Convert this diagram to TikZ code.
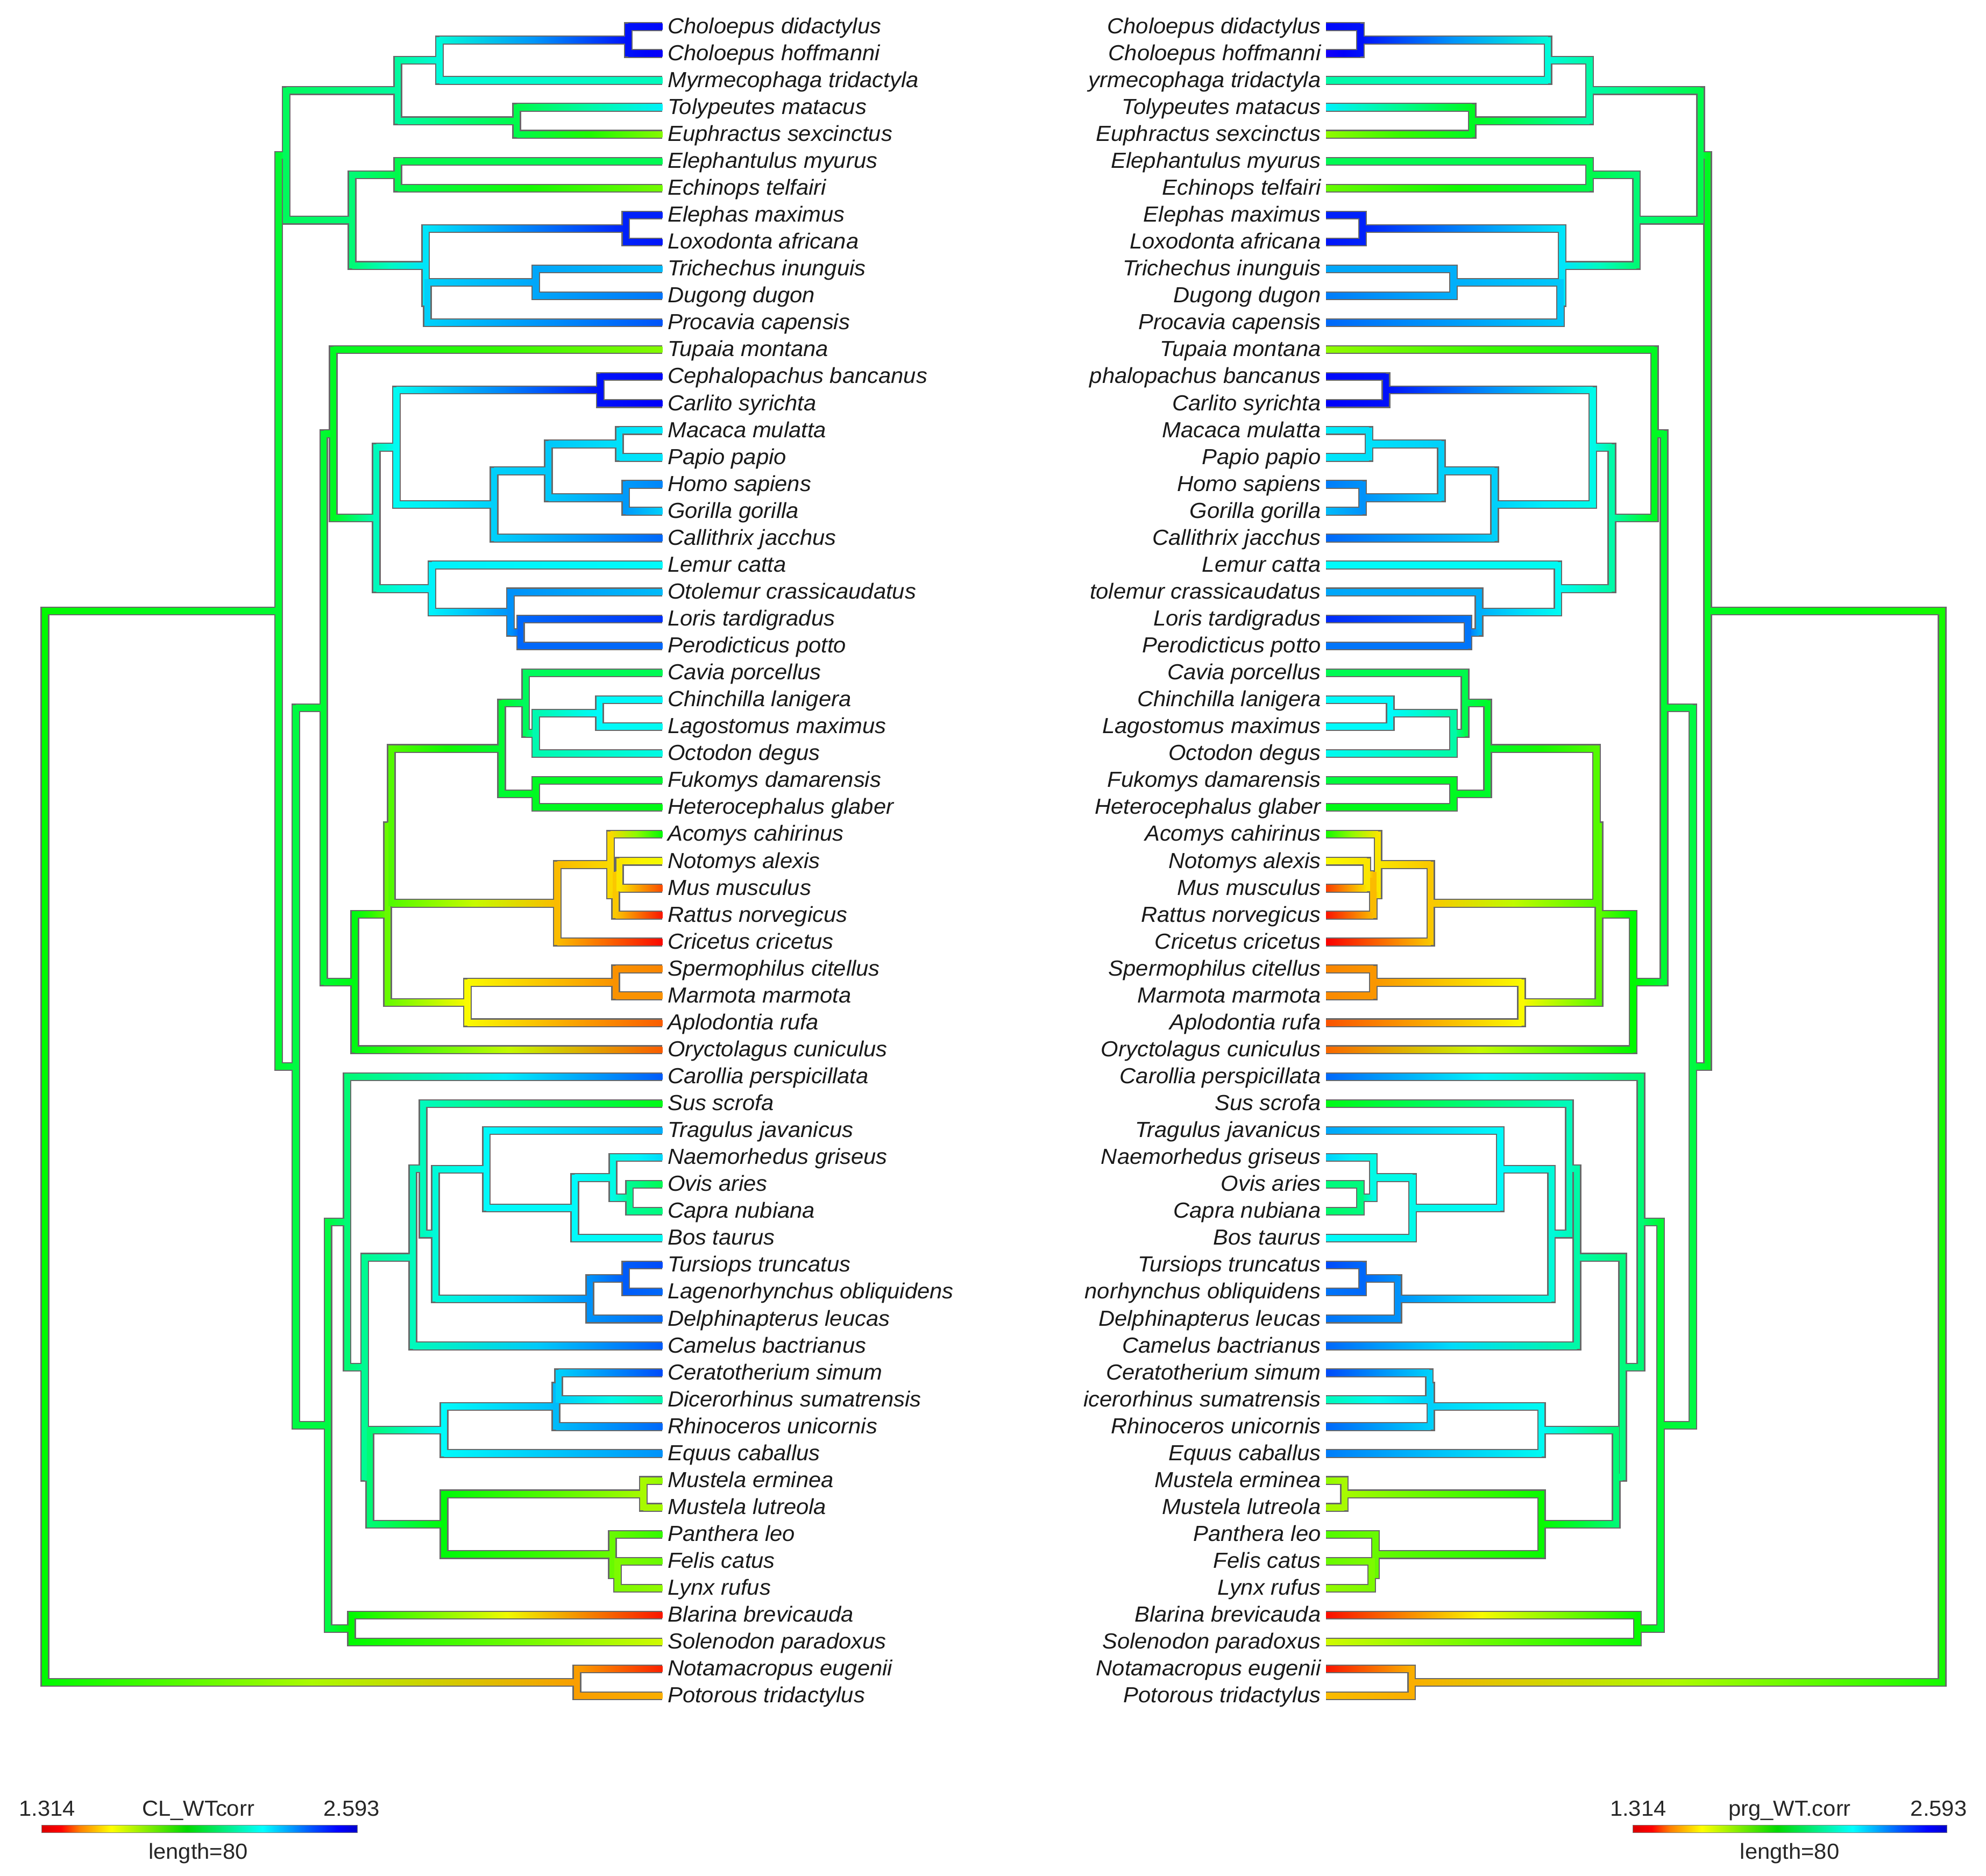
\documentclass[tikz,border=0pt]{standalone}
\usepackage{fontspec}
\usepackage{tikz}
\usetikzlibrary{calc}
\newfontfamily\labfont[FakeStretch=1.03]{Liberation Sans}
\definecolor{edgegray}{RGB}{105,105,105}
\pgfdeclarehorizontalshading{wtscale}{100bp}{color(0bp)=(red!85!black); color(25bp)=(red!85!black); color(28bp)=(red); color(31bp)=(orange); color(36bp)=(yellow); color(48bp)=(green!85!black); color(60bp)=(cyan); color(68bp)=(blue!70!cyan); color(72bp)=(blue); color(75bp)=(blue!80!black); color(100bp)=(blue!80!black)}
\tikzset{
  edgeout/.style={line width=3.5mm, draw=edgegray, line join=miter},
  edgein/.style={line width=2.4mm, line cap=rect},
  lablft/.style={anchor=base west, inner sep=0pt, yshift=-2.7mm, text=black!90, font=\labfont\itshape\fontsize{24.5pt}{29pt}\selectfont},
  labrgt/.style={lablft, anchor=base east},
  legtxt/.style={inner sep=0pt, text=black!85, font=\labfont\fontsize{24.5pt}{29pt}\selectfont}
}
\newif\ifoutline
\newif\ifrightside
\newcommand{\nd}[4]{%
  \coordinate (#1) at (#2,#3);%
  \expandafter\xdef\csname hue-#1\endcsname{#4}}
\newcommand{\huecol}[2]{%
  \convertcolorspec{Hsb}{#2,1,.98}{rgb}\huespec
  \definecolor{#1}{rgb}{\huespec}}
\newcommand{\br}[2]{%
  \ifoutline
    \draw[edgeout] (#1) -- (#1|-#2) -- (#2);%
  \else
    \edef\hp{\csname hue-#1\endcsname}%
    \edef\hc{\csname hue-#2\endcsname}%
    \pgfmathsetmacro\hm{(\hp+\hc)/2}%
    \huecol{cp}{\hp}\huecol{cc}{\hc}\huecol{cm}{\hm}%
    \draw[edgein, draw=cp] (#1) -- (#1|-#2);%
    \ifrightside
      \shade[left color=cc, right color=cp, middle color=cm] ($(#2)+(0mm,-1.2mm)$) rectangle ($(#1|-#2)+(0mm,1.2mm)$);%
    \else
      \shade[left color=cp, right color=cc, middle color=cm] ($(#1|-#2)+(0mm,-1.2mm)$) rectangle ($(#2)+(0mm,1.2mm)$);%
    \fi
  \fi}
\newcommand{\edges}[1]{%
 \br{#1root}{#1plac}\br{#1root}{#1mars}%
 \br{#1mars}{#161}\br{#1mars}{#162}%
 \br{#1plac}{#1atl}\br{#1plac}{#1boreo}%
 \br{#1atl}{#1xen}\br{#1atl}{#1afro}%
 \br{#1xen}{#1xa}\br{#1xen}{#1arma}%
 \br{#1xa}{#1sloth}\br{#1xa}{#12}%
 \br{#1sloth}{#10}\br{#1sloth}{#11}%
 \br{#1arma}{#13}\br{#1arma}{#14}%
 \br{#1afro}{#1elec}\br{#1afro}{#1paen}%
 \br{#1elec}{#15}\br{#1elec}{#16}%
 \br{#1paen}{#1eleph}\br{#1paen}{#1sirpro}%
 \br{#1eleph}{#17}\br{#1eleph}{#18}%
 \br{#1sirpro}{#1sir}\br{#1sirpro}{#111}%
 \br{#1sir}{#19}\br{#1sir}{#110}%
 \br{#1boreo}{#1eug}\br{#1boreo}{#1laur}%
 \br{#1eug}{#1euarch}\br{#1eug}{#1glires}%
 \br{#1euarch}{#112}\br{#1euarch}{#1prim}%
 \br{#1prim}{#1hap}\br{#1prim}{#1strep}%
 \br{#1hap}{#1tars}\br{#1hap}{#1sim}%
 \br{#1tars}{#113}\br{#1tars}{#114}%
 \br{#1sim}{#1cat}\br{#1sim}{#119}%
 \br{#1cat}{#1macpap}\br{#1cat}{#1homgor}%
 \br{#1macpap}{#115}\br{#1macpap}{#116}%
 \br{#1homgor}{#117}\br{#1homgor}{#118}%
 \br{#1strep}{#120}\br{#1strep}{#1loris}%
 \br{#1loris}{#121}\br{#1loris}{#1lorper}%
 \br{#1lorper}{#122}\br{#1lorper}{#123}%
 \br{#1glires}{#1rod}\br{#1glires}{#138}%
 \br{#1rod}{#1rod2}\br{#1rod}{#1scro}%
 \br{#1rod2}{#1hystr}\br{#1rod2}{#1muro}%
 \br{#1hystr}{#1cavio}\br{#1hystr}{#1fukhet}%
 \br{#1cavio}{#124}\br{#1cavio}{#1clo}%
 \br{#1clo}{#1chla}\br{#1clo}{#127}%
 \br{#1chla}{#125}\br{#1chla}{#126}%
 \br{#1fukhet}{#128}\br{#1fukhet}{#129}%
 \br{#1muro}{#1murid}\br{#1muro}{#134}%
 \br{#1murid}{#130}\br{#1murid}{#1mur2}%
 \br{#1mur2}{#1mur3}\br{#1mur2}{#133}%
 \br{#1mur3}{#131}\br{#1mur3}{#132}%
 \br{#1scro}{#1sciu}\br{#1scro}{#137}%
 \br{#1sciu}{#135}\br{#1sciu}{#136}%
 \br{#1laur}{#1bat}\br{#1laur}{#1euli}%
 \br{#1bat}{#139}\br{#1bat}{#1fer}%
 \br{#1fer}{#1cart}\br{#1fer}{#1zoo}%
 \br{#1cart}{#1susn}\br{#1cart}{#149}%
 \br{#1susn}{#140}\br{#1susn}{#1cetr}%
 \br{#1cetr}{#1rum}\br{#1cetr}{#1ceta}%
 \br{#1rum}{#141}\br{#1rum}{#1bov}%
 \br{#1bov}{#1nae}\br{#1bov}{#145}%
 \br{#1nae}{#142}\br{#1nae}{#1ovca}%
 \br{#1ovca}{#143}\br{#1ovca}{#144}%
 \br{#1ceta}{#1tula}\br{#1ceta}{#148}%
 \br{#1tula}{#146}\br{#1tula}{#147}%
 \br{#1zoo}{#1peri}\br{#1zoo}{#1carn}%
 \br{#1peri}{#1rhin}\br{#1peri}{#153}%
 \br{#1rhin}{#1cedi}\br{#1rhin}{#152}%
 \br{#1cedi}{#150}\br{#1cedi}{#151}%
 \br{#1carn}{#1must}\br{#1carn}{#1fel1}%
 \br{#1must}{#154}\br{#1must}{#155}%
 \br{#1fel1}{#156}\br{#1fel1}{#1fel2}%
 \br{#1fel2}{#157}\br{#1fel2}{#158}%
 \br{#1euli}{#159}\br{#1euli}{#160}%
}

\begin{document}
\begin{tikzpicture}[x=0.5mm, y=-10.63mm]
\useasboundingbox (0,-0.9878) rectangle (1568,68.674);

\foreach \h [count=\i from 0] in {238,242,165,182,88,140,92,232,235,195,212,220,88,238,240,183,185,208,190,215,180,195,228,215,140,180,178,175,132,125,120,62,18,5,2,32,35,22,22,218,125,198,188,140,150,178,222,215,215,218,222,162,215,205,85,80,108,95,85,5,70,8,42}
  {\nd{l\i}{523}{\i}{\h}}
\foreach \h [count=\i from 0] in {238,245,160,182,85,140,95,232,235,200,210,215,85,238,240,183,185,210,195,215,180,200,230,212,140,180,180,178,135,125,115,60,15,5,0,32,33,20,25,215,125,200,190,150,145,180,222,212,212,215,222,165,215,210,85,80,100,95,85,3,70,5,45}
  {\nd{r\i}{1047}{\i}{\h}}

\nd{lroot}{35.5}{41.602}{120}
\nd{lmars}{455.4}{61.5}{38}
\nd{lplac}{220}{21.704}{132}
\nd{latl}{226}{4.781}{142}
\nd{lxen}{314}{2.375}{158}
\nd{lxa}{347}{1.25}{172}
\nd{lsloth}{496}{0.5}{236}
\nd{larma}{408}{3.5}{138}
\nd{lafro}{278}{7.188}{148}
\nd{lelec}{314}{5.5}{138}
\nd{lpaen}{336}{8.875}{185}
\nd{leleph}{494}{7.5}{232}
\nd{lsirpro}{337.5}{10.25}{190}
\nd{lsir}{423}{9.5}{200}
\nd{lboreo}{233.6}{38.626}{136}
\nd{leug}{255.6}{25.305}{132}
\nd{leuarch}{263}{15.125}{128}
\nd{lprim}{297}{18.25}{165}
\nd{lhap}{313}{15.625}{178}
\nd{ltars}{474}{13.5}{236}
\nd{lsim}{390}{17.75}{190}
\nd{lcat}{433}{16.5}{192}
\nd{lmacpap}{489}{15.5}{186}
\nd{lhomgor}{494}{17.5}{203}
\nd{lstrep}{341}{20.875}{182}
\nd{lloris}{403}{21.75}{205}
\nd{llorper}{411}{22.5}{215}
\nd{lglires}{280}{35.484}{124}
\nd{lrod}{306}{32.969}{95}
\nd{lrod2}{309}{29.688}{100}
\nd{lhystr}{396}{26.813}{132}
\nd{lcavio}{415}{25.125}{142}
\nd{lclo}{423}{26.25}{162}
\nd{lchla}{473.4}{25.5}{180}
\nd{lfukhet}{423}{28.5}{128}
\nd{lmuro}{440}{32.563}{45}
\nd{lmurid}{482}{31.125}{52}
\nd{lmur2}{486}{32.25}{48}
\nd{lmur3}{489}{31.5}{55}
\nd{lscro}{369}{36.25}{60}
\nd{lsciu}{486}{35.5}{35}
\nd{llaur}{259}{51.948}{136}
\nd{lbat}{274}{44.397}{148}
\nd{lfer}{288}{49.793}{155}
\nd{lcart}{326}{45.711}{165}
\nd{lsusn}{334}{42.422}{165}
\nd{lcetr}{343.7}{44.844}{172}
\nd{lrum}{384}{42.438}{180}
\nd{lbov}{453.7}{43.875}{180}
\nd{lnae}{484}{42.75}{175}
\nd{lovca}{497}{43.5}{155}
\nd{lceta}{465.6}{47.25}{205}
\nd{ltula}{494}{46.5}{218}
\nd{lzoo}{292}{53.875}{148}
\nd{lperi}{350.5}{52.125}{180}
\nd{lrhin}{439}{51.25}{195}
\nd{lcedi}{441}{50.5}{190}
\nd{lcarn}{350.5}{55.625}{122}
\nd{lmust}{508}{54.5}{80}
\nd{lfel1}{483.5}{56.75}{95}
\nd{lfel2}{487.5}{57.5}{90}
\nd{leuli}{277.6}{59.5}{120}

\nd{rroot}{1533.3}{41.602}{115}
\nd{rmars}{1114.5}{61.5}{42}
\nd{rplac}{1348.3}{21.704}{128}
\nd{ratl}{1342.6}{4.781}{138}
\nd{rxen}{1255}{2.375}{160}
\nd{rxa}{1222.2}{1.25}{172}
\nd{rsloth}{1074}{0.5}{236}
\nd{rarma}{1162.3}{3.5}{128}
\nd{rafro}{1292}{7.188}{148}
\nd{relec}{1255}{5.5}{138}
\nd{rpaen}{1233.3}{8.875}{185}
\nd{releph}{1075.8}{7.5}{232}
\nd{rsirpro}{1232}{10.25}{192}
\nd{rsir}{1147.5}{9.5}{198}
\nd{rboreo}{1336.5}{38.626}{136}
\nd{reug}{1313.7}{25.305}{132}
\nd{reuarch}{1306.3}{15.125}{128}
\nd{rprim}{1272.6}{18.25}{160}
\nd{rhap}{1257.5}{15.625}{176}
\nd{rtars}{1094.3}{13.5}{236}
\nd{rsim}{1180}{17.75}{190}
\nd{rcat}{1138}{16.5}{190}
\nd{rmacpap}{1080.9}{15.5}{186}
\nd{rhomgor}{1075.8}{17.5}{205}
\nd{rstrep}{1230}{20.875}{178}
\nd{rloris}{1167.7}{21.75}{198}
\nd{rlorper}{1159}{22.5}{212}
\nd{rglires}{1289.4}{35.484}{120}
\nd{rrod}{1262.5}{32.969}{98}
\nd{rrod2}{1260.5}{29.688}{100}
\nd{rhystr}{1174.4}{26.813}{130}
\nd{rcavio}{1156.6}{25.125}{138}
\nd{rclo}{1147.5}{26.25}{160}
\nd{rchla}{1097.7}{25.5}{180}
\nd{rfukhet}{1147.5}{28.5}{128}
\nd{rmuro}{1129.6}{32.563}{48}
\nd{rmurid}{1088}{31.125}{55}
\nd{rmur2}{1084.2}{32.25}{45}
\nd{rmur3}{1079.2}{31.5}{55}
\nd{rscro}{1201.3}{36.25}{60}
\nd{rsciu}{1084.2}{35.5}{36}
\nd{rlaur}{1311}{51.948}{132}
\nd{rbat}{1295.5}{44.397}{148}
\nd{rfer}{1281}{49.793}{150}
\nd{rcart}{1245}{45.711}{160}
\nd{rsusn}{1239}{42.422}{165}
\nd{rcetr}{1224.9}{44.844}{172}
\nd{rrum}{1184.5}{42.438}{180}
\nd{rbov}{1115.2}{43.875}{176}
\nd{rnae}{1084.2}{42.75}{175}
\nd{rovca}{1074}{43.5}{150}
\nd{rceta}{1103.7}{47.25}{205}
\nd{rtula}{1075.8}{46.5}{215}
\nd{rzoo}{1276}{53.875}{148}
\nd{rperi}{1217.1}{52.125}{178}
\nd{rrhin}{1129.6}{51.25}{190}
\nd{rcedi}{1128.5}{50.5}{190}
\nd{rcarn}{1217.1}{55.625}{118}
\nd{rmust}{1061.4}{54.5}{80}
\nd{rfel1}{1086}{56.75}{95}
\nd{rfel2}{1083}{57.5}{90}
\nd{reuli}{1292.8}{59.5}{118}

\outlinetrue
\rightsidefalse\edges{l}
\rightsidetrue\edges{r}
\outlinefalse
\rightsidefalse\edges{l}
\rightsidetrue\edges{r}

\foreach \nm [count=\i from 0] in {Choloepus didactylus,Choloepus hoffmanni,Myrmecophaga tridactyla,Tolypeutes matacus,Euphractus sexcinctus,Elephantulus myurus,Echinops telfairi,Elephas maximus,Loxodonta africana,Trichechus inunguis,Dugong dugon,Procavia capensis,Tupaia montana,Cephalopachus bancanus,Carlito syrichta,Macaca mulatta,Papio papio,Homo sapiens,Gorilla gorilla,Callithrix jacchus,Lemur catta,Otolemur crassicaudatus,Loris tardigradus,Perodicticus potto,Cavia porcellus,Chinchilla lanigera,Lagostomus maximus,Octodon degus,Fukomys damarensis,Heterocephalus glaber,Acomys cahirinus,Notomys alexis,Mus musculus,Rattus norvegicus,Cricetus cricetus,Spermophilus citellus,Marmota marmota,Aplodontia rufa,Oryctolagus cuniculus,Carollia perspicillata,Sus scrofa,Tragulus javanicus,Naemorhedus griseus,Ovis aries,Capra nubiana,Bos taurus,Tursiops truncatus,Lagenorhynchus obliquidens,Delphinapterus leucas,Camelus bactrianus,Ceratotherium simum,Dicerorhinus sumatrensis,Rhinoceros unicornis,Equus caballus,Mustela erminea,Mustela lutreola,Panthera leo,Felis catus,Lynx rufus,Blarina brevicauda,Solenodon paradoxus,Notamacropus eugenii,Potorous tridactylus}
  {\node[lablft] (lt\i) at (527,\i) {\nm};}
\foreach \nm [count=\i from 0] in {Choloepus didactylus,Choloepus hoffmanni,yrmecophaga tridactyla,Tolypeutes matacus,Euphractus sexcinctus,Elephantulus myurus,Echinops telfairi,Elephas maximus,Loxodonta africana,Trichechus inunguis,Dugong dugon,Procavia capensis,Tupaia montana,phalopachus bancanus,Carlito syrichta,Macaca mulatta,Papio papio,Homo sapiens,Gorilla gorilla,Callithrix jacchus,Lemur catta,tolemur crassicaudatus,Loris tardigradus,Perodicticus potto,Cavia porcellus,Chinchilla lanigera,Lagostomus maximus,Octodon degus,Fukomys damarensis,Heterocephalus glaber,Acomys cahirinus,Notomys alexis,Mus musculus,Rattus norvegicus,Cricetus cricetus,Spermophilus citellus,Marmota marmota,Aplodontia rufa,Oryctolagus cuniculus,Carollia perspicillata,Sus scrofa,Tragulus javanicus,Naemorhedus griseus,Ovis aries,Capra nubiana,Bos taurus,Tursiops truncatus,norhynchus obliquidens,Delphinapterus leucas,Camelus bactrianus,Ceratotherium simum,icerorhinus sumatrensis,Rhinoceros unicornis,Equus caballus,Mustela erminea,Mustela lutreola,Panthera leo,Felis catus,Lynx rufus,Blarina brevicauda,Solenodon paradoxus,Notamacropus eugenii,Potorous tridactylus}
  {\node[labrgt] (rt\i) at (1043,\i) {\nm};}

\node[legtxt, anchor=base west] (lmin) at (15,66.463) {1.314};
\node[legtxt, anchor=base] (lname) at (156.5,66.463) {CL\_WTcorr};
\node[legtxt, anchor=base east] (lmax) at (300,66.463) {2.593};
\shade[shading=wtscale, draw=gray] (33,66.792) rectangle (282,67.074);
\node[legtxt, anchor=base] (llen) at (156.5,68.053) {length=80};

\node[legtxt, anchor=base west] (rmin) at (1271,66.463) {1.314};
\node[legtxt, anchor=base] (rname) at (1413,66.463) {prg\_WT.corr};
\node[legtxt, anchor=base east] (rmax) at (1553,66.463) {2.593};
\shade[shading=wtscale, draw=gray] (1289,66.792) rectangle (1537,67.074);
\node[legtxt, anchor=base] (rlen) at (1413,68.053) {length=80};
\end{tikzpicture}
\end{document}
